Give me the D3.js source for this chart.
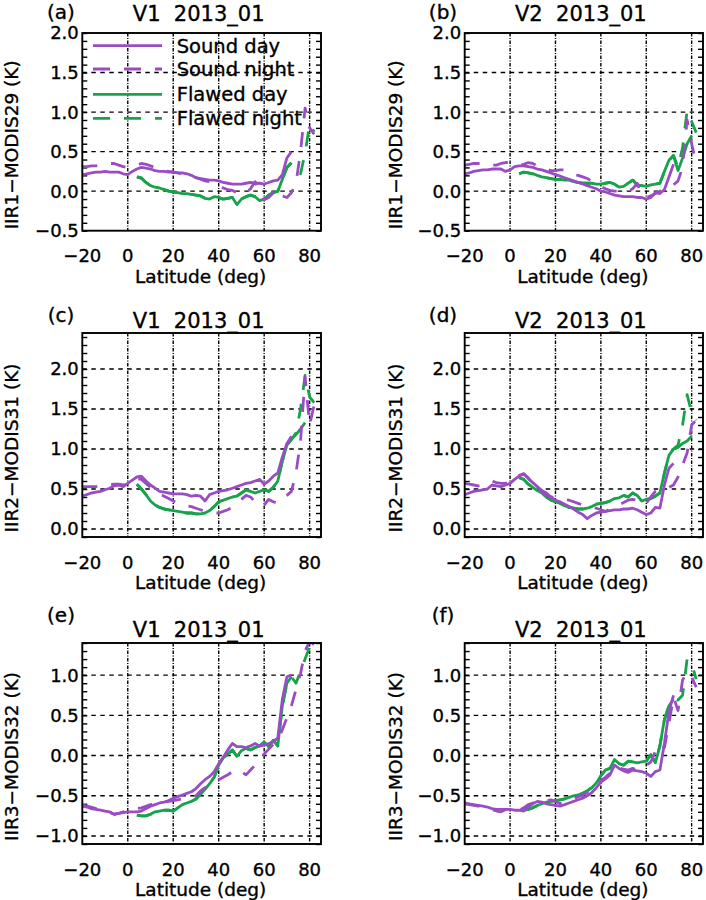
<!DOCTYPE html>
<html><head><meta charset="utf-8">
<script src="https://cdn.jsdelivr.net/npm/d3@7"></script>
<style>
body{margin:0;background:#fff}
svg{display:block}
text{font-family:"DejaVu Sans",sans-serif;fill:#000;stroke:#000;stroke-width:0.35px}
</style>
</head><body>
<svg id="chart" width="706" height="900"></svg>
<script>
// ---------------- DATA ----------------
const lat = [-20,-18,-16,-14,-12,-10,-8,-6,-4,-2,
             0,2,4,6,8,10,12,14,16,18,
             20,22,24,26,28,30,32,34,36,38,
             40,42,44,46,48,50,52,54,56,58,
             60,62,64,66,68,70,72,74,76,78,
             80,82];
const xTicks = [-20, 0, 20, 40, 60, 80];
const seriesNames = ["Sound day", "Sound night", "Flawed day", "Flawed night"];
const panelLetters = ["(a)", "(b)", "(c)", "(d)", "(e)", "(f)"];
const panelTitles = ["V1  2013_01", "V2  2013_01", "V1  2013_01", "V2  2013_01", "V1  2013_01", "V2  2013_01"];
const yLabels = ["IIR1\u2212MODIS29 (K)", "IIR1\u2212MODIS29 (K)", "IIR2\u2212MODIS31 (K)", "IIR2\u2212MODIS31 (K)", "IIR3\u2212MODIS32 (K)", "IIR3\u2212MODIS32 (K)"];
const xLabel = "Latitude (deg)";
const yTicksRow1 = [-0.5, 0.0, 0.5, 1.0, 1.5, 2.0];
const yTicksRow2 = [0.0, 0.5, 1.0, 1.5, 2.0];
const yTicksRow3 = [-1.0, -0.5, 0.0, 0.5, 1.0];
const yDomainRow1 = [-0.5, 2.0];
const yDomainRow2 = [-0.1, 2.45];
const yDomainRow3 = [-1.1, 1.4];

const N = null;
// Panel (a)
const a_soundDay = [.21,.22,.23,.24,.24,.25,.24,.24,.24,.22,
  .21,.25,.28,.30,.29,.28,.26,.25,.25,.24,
  .24,.23,.23,.22,.20,.17,.16,.15,.14,.14,
  .13,.11,.10,.09,.09,.09,.10,.11,.10,.10,
  .09,.11,.13,.14,.21,.42,.50,N,N,N,
  N,N];
const a_soundNight = [.31,.31,.32,.32,.33,.34,.35,.35,.33,.31,
  .30,.31,.33,.35,.34,.32,.30,.28,.26,.25,
  .24,.23,.22,.21,.19,.17,.15,.13,.12,.10,
  .07,.04,.02,.01,-.02,-.04,-.02,.03,.12,.00,
  -.11,-.08,-.02,.03,-.06,-.08,-.02,.10,.50,1.05,
  .80,.72];
const a_flawedDay = [N,N,N,N,N,N,N,N,N,N,
  N,N,.18,.17,.11,.07,.05,.04,.02,.00,
  -.01,-.02,-.03,-.03,-.04,-.05,-.06,-.09,-.10,-.07,
  -.08,-.10,-.09,-.08,-.17,-.10,-.07,-.05,-.07,-.12,
  -.10,-.05,-.02,.00,.15,.30,.36,N,N,N,
  N,N];
const a_flawedNight = [N,N,N,N,N,N,N,N,N,N,
  N,N,.18,.16,.11,.07,.05,.04,.02,.00,
  -.01,-.02,-.03,-.03,-.04,-.05,-.06,-.09,-.10,-.07,
  -.08,-.10,-.09,-.08,-.16,-.10,-.07,-.05,-.07,-.12,
  -.10,-.05,-.02,.00,.15,.30,.36,.25,.22,.48,
  .85,.75];
// Panel (b)
const b_soundDay = [.22,.23,.25,.26,.27,.27,.28,.28,.28,.25,
  .27,.31,.32,.32,.31,.30,.28,.27,.25,.23,
  .21,.19,.17,.15,.13,.11,.09,.07,.05,.03,
  .00,-.01,-.03,-.05,-.06,-.07,-.07,-.07,-.08,-.08,
  -.10,-.08,-.02,-.03,.02,.18,.34,N,N,N,
  N,N];
const b_soundNight = [.33,.34,.35,.35,.35,.35,.33,.33,.35,.36,
  .37,.35,.33,.34,.36,.35,.32,.30,.28,.26,
  .26,.27,.27,.24,.21,.20,.18,.16,.13,.10,
  .06,.03,.01,.00,.00,-.01,.00,.03,.10,-.05,
  -.08,-.06,-.03,.00,.02,.05,.08,.13,.30,.90,
  .60,.35];
const b_flawedDay = [N,N,N,N,N,N,N,N,N,N,
  N,N,.22,.24,.23,.22,.20,.18,.17,.16,
  .15,.15,.14,.14,.12,.11,.10,.10,.10,.09,
  .09,.10,.11,.09,.05,.06,.10,.14,.08,.07,
  .06,.08,.09,.10,.25,.39,.45,.26,.42,.60,
  .70,N];
const b_flawedNight = [N,N,N,N,N,N,N,N,N,N,
  N,N,.22,.24,.23,.22,.20,.18,.17,.16,
  .15,.15,.14,.14,.12,.11,.10,.10,.10,.09,
  .09,.10,.11,.09,.05,.06,.10,.14,.08,.07,
  .06,.08,.09,.10,.25,.39,.45,.30,.55,1.02,
  .88,.74];
// Panel (c)
const c_soundDay = [.41,.43,.45,.46,.47,.49,.51,.54,.55,.53,
  .57,.61,.65,.66,.60,.55,.51,.47,.46,.45,
  .44,.44,.44,.43,.41,.42,.41,.35,.43,.45,
  .47,.48,.49,.51,.53,.55,.57,.58,.60,.62,
  .56,.60,.66,.70,.90,1.07,1.16,N,N,N,
  N,N];
const c_soundNight = [.53,.53,.53,.53,.54,.55,.55,.56,.56,.55,
  .56,.60,.63,.62,.57,.52,.48,.44,.41,.38,
  .35,.32,.30,.29,.28,.26,.24,.22,.21,.20,
  .20,.22,.24,.27,.32,.37,.42,.40,.34,.28,
  .30,.37,.34,.32,.38,.42,.47,.70,1.10,1.90,
  1.30,1.55];
const c_flawedDay = [N,N,N,N,N,N,N,N,N,N,
  N,N,.56,.50,.43,.35,.30,.27,.25,.24,
  .23,.22,.21,.20,.20,.19,.19,.20,.23,.28,
  .34,.36,.38,.40,.41,.45,.49,.47,.45,.47,
  .49,.47,.52,.60,.85,1.05,1.12,1.18,1.25,1.33,
  N,N];
const c_flawedNight = [N,N,N,N,N,N,N,N,N,N,
  N,N,.56,.50,.43,.35,.30,.27,.25,.24,
  .23,.22,.21,.20,.20,.19,.19,.20,.23,.28,
  .34,.36,.38,.40,.41,.45,.49,.47,.45,.47,
  .49,.47,.52,.60,.85,1.05,1.12,1.20,1.50,1.92,
  1.65,1.58];
// Panel (d)
const d_soundDay = [.43,.45,.47,.48,.49,.50,.55,.54,.53,.55,
  .57,.62,.66,.69,.63,.58,.53,.48,.45,.40,
  .36,.34,.31,.28,.25,.21,.18,.13,.17,.20,
  .21,.22,.23,.24,.24,.25,.25,.26,.24,.21,
  .18,.20,.27,.26,.55,.76,.82,N,N,N,
  N,N];
const d_soundNight = [.57,.56,.55,.54,.55,.58,.60,.58,.57,.57,
  .59,.62,.67,.69,.64,.56,.49,.46,.42,.40,
  .39,.38,.37,.36,.34,.32,.30,.28,.27,.26,
  .24,.22,.25,.28,.30,.33,.36,.37,.36,.30,
  .32,.40,.47,.50,.51,.52,.55,.65,.80,.95,
  1.30,1.36];
const d_flawedDay = [N,N,N,N,N,N,N,N,N,N,
  N,N,.64,.62,.56,.52,.48,.45,.40,.36,
  .34,.32,.29,.27,.26,.25,.25,.26,.28,.31,
  .32,.33,.35,.38,.39,.42,.40,.45,.42,.35,
  .37,.38,.41,.45,.70,.92,1.00,1.02,1.07,1.10,
  1.16,N];
const d_flawedNight = [N,N,N,N,N,N,N,N,N,N,
  N,N,.64,.62,.56,.52,.48,.45,.40,.36,
  .34,.32,.29,.27,.26,.25,.25,.26,.28,.31,
  .32,.33,.35,.38,.39,.42,.40,.45,.42,.35,
  .37,.38,.41,.45,.70,.92,1.00,1.05,1.30,1.68,
  1.45,1.36];
// Panel (e)
const e_soundDay = [-.63,-.64,-.66,-.67,-.68,-.69,-.70,-.73,-.72,-.71,
  -.70,-.70,-.70,-.69,-.66,-.63,-.61,-.59,-.58,-.56,
  -.53,-.51,-.49,-.47,-.45,-.41,-.35,-.30,-.26,-.20,
  -.10,-.02,.07,.15,.11,.11,.10,.12,.15,.12,
  .13,.15,.17,.22,.70,.98,1.00,N,N,N,
  N,N];
const e_soundNight = [-.61,-.63,-.64,-.66,-.68,-.70,-.71,-.73,-.72,-.70,
  -.69,-.68,-.66,-.65,-.63,-.61,-.60,-.59,-.58,-.57,
  -.56,-.55,-.54,-.53,-.52,-.50,-.44,-.40,-.36,-.34,
  -.30,-.27,-.24,-.20,-.17,-.20,-.24,-.18,-.12,-.05,
  .02,.08,.14,.20,.32,.47,.62,.82,1.02,1.30,
  1.42,1.38];
const e_flawedDay = [N,N,N,N,N,N,N,N,N,N,
  N,N,-.74,-.75,-.75,-.73,-.70,-.69,-.68,-.68,
  -.69,-.65,-.61,-.59,-.57,-.54,-.48,-.42,-.35,-.27,
  -.12,-.03,.02,.07,-.01,.06,.09,.07,.10,.12,
  .17,.11,.19,.12,.62,.90,.98,N,N,N,
  N,N];
const e_flawedNight = [N,N,N,N,N,N,N,N,N,N,
  N,N,-.74,-.75,-.75,-.73,-.70,-.69,-.68,-.68,
  -.69,-.65,-.61,-.59,-.57,-.54,-.48,-.42,-.35,-.27,
  -.12,-.03,.02,.07,-.01,.06,.09,.07,.10,.12,
  .17,.11,.19,.12,.62,.90,.98,.90,1.05,1.20,
  1.35,1.25];
// Panel (f)
const f_soundDay = [-.59,-.60,-.61,-.62,-.63,-.64,-.66,-.67,-.67,-.67,
  -.67,-.68,-.68,-.69,-.64,-.60,-.57,-.58,-.60,-.61,
  -.62,-.63,-.61,-.59,-.57,-.55,-.53,-.50,-.46,-.40,
  -.33,-.29,-.24,-.12,-.16,-.19,-.21,-.18,-.19,-.20,
  -.22,-.26,-.20,-.18,.15,.55,.75,N,N,N,
  N,N];
const f_soundNight = [-.60,-.61,-.62,-.63,-.64,-.65,-.67,-.69,-.70,-.67,
  -.66,-.67,-.68,-.65,-.61,-.59,-.58,-.57,-.56,-.55,
  -.57,-.60,-.58,-.56,-.54,-.51,-.49,-.46,-.43,-.38,
  -.31,-.27,-.22,-.14,-.15,-.17,-.18,-.16,-.18,-.17,
  -.12,-.08,.05,.15,.10,.40,.73,.56,.94,1.04,
  .98,.85];
const f_flawedDay = [N,N,N,N,N,N,N,N,N,N,
  N,N,N,-.68,-.67,-.65,-.62,-.60,-.58,-.57,
  -.56,-.55,-.54,-.52,-.50,-.49,-.47,-.44,-.40,-.34,
  -.25,-.18,-.16,-.05,-.10,-.12,-.07,-.08,-.09,-.08,
  -.07,.01,-.09,.12,.45,.62,.70,N,N,N,
  N,N];
const f_flawedNight = [N,N,N,N,N,N,N,N,N,N,
  N,N,N,-.68,-.67,-.65,-.62,-.60,-.58,-.57,
  -.56,-.55,-.54,-.52,-.50,-.49,-.47,-.44,-.40,-.34,
  -.25,-.18,-.16,-.05,-.10,-.12,-.07,-.08,-.09,-.08,
  -.07,.01,-.09,.12,.45,.62,.70,.69,.75,1.20,
  1.15,.95];

// ---------------- LAYOUT / STYLE ----------------
const PURPLE = "#9a4cc4";
const GREEN = "#16a34a";
const seriesStyle = [
  {color: PURPLE, dash: null},
  {color: PURPLE, dash: "15,14"},
  {color: GREEN, dash: null},
  {color: GREEN, dash: "15,14"}
];
const colX = [[82.3, 321], [464.7, 703]];
const rowY = [[33, 230.7], [333, 537], [643, 844]];
const rowTitleBase = [20.7, 328.3, 637];
const rowLetterBase = [18.5, 321.5, 621.5];
const letterX = [61, 443];

const panels = [
  {col:0,row:0,dom:yDomainRow1,ticks:yTicksRow1,s:[a_soundDay,a_soundNight,a_flawedDay,a_flawedNight]},
  {col:1,row:0,dom:yDomainRow1,ticks:yTicksRow1,s:[b_soundDay,b_soundNight,b_flawedDay,b_flawedNight]},
  {col:0,row:1,dom:yDomainRow2,ticks:yTicksRow2,s:[c_soundDay,c_soundNight,c_flawedDay,c_flawedNight]},
  {col:1,row:1,dom:yDomainRow2,ticks:yTicksRow2,s:[d_soundDay,d_soundNight,d_flawedDay,d_flawedNight]},
  {col:0,row:2,dom:yDomainRow3,ticks:yTicksRow3,s:[e_soundDay,e_soundNight,e_flawedDay,e_flawedNight]},
  {col:1,row:2,dom:yDomainRow3,ticks:yTicksRow3,s:[f_soundDay,f_soundNight,f_flawedDay,f_flawedNight]}
];

const svg = d3.select("#chart");
const fmtY = d3.format(".1f");
const fmtX = d3.format("d");

panels.forEach((p, i) => {
  const [x0, x1] = colX[p.col];
  const [y0, y1] = rowY[p.row];
  const x = d3.scaleLinear().domain([-20, 85]).range([x0, x1]);
  const y = d3.scaleLinear().domain(p.dom).range([y1, y0]);
  const g = svg.append("g");

  const clipId = "clip" + i;
  g.append("clipPath").attr("id", clipId).append("rect")
    .attr("x", x0).attr("y", y0).attr("width", x1 - x0).attr("height", y1 - y0);

  // gridlines
  g.selectAll(".vg").data(xTicks.filter(t => t > -20)).join("line")
    .attr("x1", d => x(d)).attr("x2", d => x(d)).attr("y1", y0).attr("y2", y1)
    .attr("stroke", "#000").attr("stroke-width", 1.4).attr("stroke-dasharray", "3.5,1.5,1,1.5");
  g.selectAll(".hg").data(p.ticks.filter(t => y(t) < y1 - 1 && y(t) > y0 + 1)).join("line")
    .attr("x1", x0).attr("x2", x1).attr("y1", d => y(d)).attr("y2", d => y(d))
    .attr("stroke", "#000").attr("stroke-width", 1.4).attr("stroke-dasharray", "4.5,4.5");

  // minor ticks on left/right axes
  const minor = d3.range(Math.ceil(p.dom[0]*10), Math.floor(p.dom[1]*10)+1).map(v => v/10);
  const yLeft = d3.axisLeft(y).tickValues(minor).tickSize(-5).tickFormat("");
  const yRight = d3.axisRight(y).tickValues(minor).tickSize(-5).tickFormat("");
  g.append("g").attr("transform", `translate(${x0},0)`).call(yLeft)
    .call(a => a.select(".domain").remove()).selectAll("line").attr("stroke-width", 1.4);
  g.append("g").attr("transform", `translate(${x1},0)`).call(yRight)
    .call(a => a.select(".domain").remove()).selectAll("line").attr("stroke-width", 1.4);

  // data lines
  const line = d3.line().defined(d => d[1] !== null)
    .x(d => x(d[0])).y(d => y(d[1]));
  const order = [3, 2, 1, 0];
  order.forEach(k => {
    const vals = p.s[k].map((v, j) => [lat[j], v]);
    g.append("path").datum(vals).attr("clip-path", `url(#${clipId})`)
      .attr("d", line).attr("fill", "none")
      .attr("stroke", seriesStyle[k].color).attr("stroke-width", 2.8)
      .attr("stroke-linejoin", "round")
      .attr("stroke-dasharray", seriesStyle[k].dash);
  });

  // frame
  g.append("rect").attr("x", x0).attr("y", y0).attr("width", x1 - x0).attr("height", y1 - y0)
    .attr("fill", "none").attr("stroke", "#000").attr("stroke-width", 1.9);

  // y tick labels
  g.selectAll(".yl").data(p.ticks).join("text")
    .attr("x", x0 - 3.5).attr("y", d => y(d)).attr("dy", "0.36em")
    .attr("text-anchor", "end").attr("font-size", 18).text(d => fmtY(d));
  // x tick labels
  g.selectAll(".xl").data(xTicks).join("text")
    .attr("x", d => x(d)).attr("y", y1 + 31.5)
    .attr("text-anchor", "middle").attr("font-size", 18).text(d => fmtX(d));
  // axis titles
  g.append("text").attr("x", (x0 + x1) / 2 - 1).attr("y", y1 + 52)
    .attr("text-anchor", "middle").attr("font-size", 18.5).text(xLabel);
  const ylx = p.col === 0 ? 11.7 : 395;
  const yly = (y0 + y1) / 2 + 13;
  g.append("text").attr("transform", `translate(${ylx + 6.5},${yly}) rotate(-90)`)
    .attr("text-anchor", "middle").attr("font-size", 18.5).text(yLabels[i]);
  // titles
  g.append("text").attr("x", (x0 + x1) / 2 - 3).attr("y", rowTitleBase[p.row])
    .attr("text-anchor", "middle").attr("font-size", 21).style("white-space", "pre")
    .text(panelTitles[i]);
  g.append("text").attr("x", letterX[p.col]).attr("y", rowLetterBase[p.row])
    .attr("text-anchor", "middle").attr("font-size", 20).text(panelLetters[i]);

  // legend in panel (a)
  if (i === 0) {
    const lg = svg.append("g");
    const rowsY = [45.7, 69, 94.3, 118.3];
    seriesNames.forEach((nm, k) => {
      lg.append("line").attr("x1", 93).attr("x2", 162).attr("y1", rowsY[k]).attr("y2", rowsY[k])
        .attr("stroke", seriesStyle[k].color).attr("stroke-width", 2.8)
        .attr("stroke-dasharray", seriesStyle[k].dash ? "17,14" : null);
      lg.append("text").attr("x", 176.7).attr("y", rowsY[k] + 7)
        .attr("font-size", 19.5).text(nm);
    });
  }
});
</script>
</body></html>
